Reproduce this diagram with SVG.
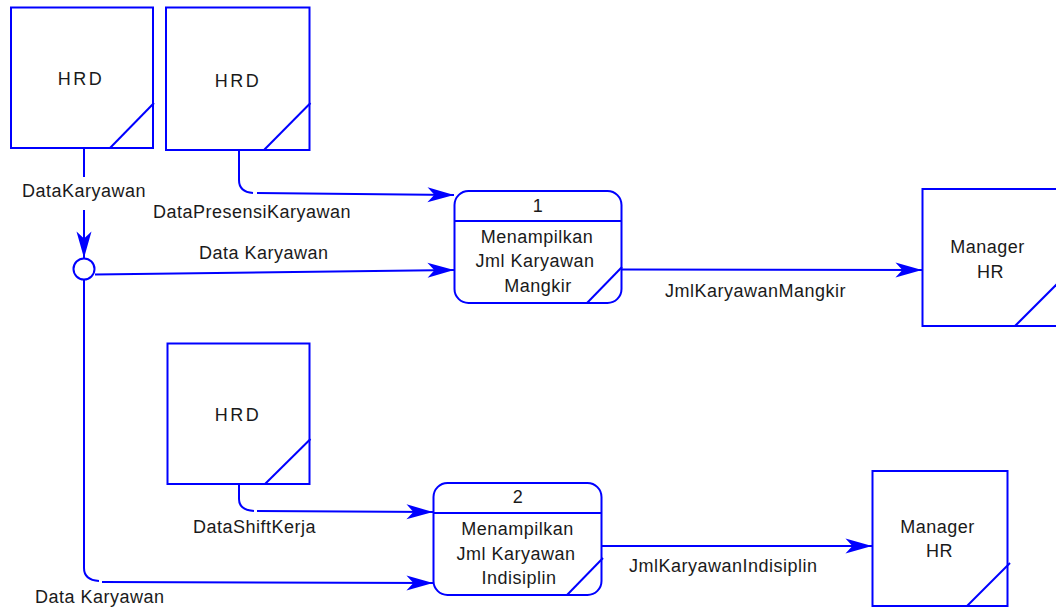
<svg xmlns="http://www.w3.org/2000/svg" width="1056" height="609" viewBox="0 0 1056 609">
<style>
.box{fill:#fff;stroke:#0000ff;stroke-width:2}
.ln{fill:none;stroke:#0000ff;stroke-width:2}
.t{font-family:"Liberation Sans",Arial,sans-serif;font-size:18px;fill:#1a1a1a;letter-spacing:0.5px}
.c{text-anchor:middle}
.h{letter-spacing:2.5px}
</style>
<defs>
<marker id="arr" markerUnits="userSpaceOnUse" markerWidth="30" markerHeight="20" viewBox="-24 -8 26 16" refX="0" refY="0" orient="auto">
<path d="M0,0 L-23,-6.5 L-17,0 L-23,6.5 Z" fill="#0000ff"/>
</marker>
</defs>
<rect width="1056" height="609" fill="#fff"/>
<g id="connectors">
<line class="ln" x1="84" y1="148" x2="84" y2="177"/>
<line class="ln" x1="84" y1="210" x2="84" y2="258" marker-end="url(#arr)"/>
<path class="ln" d="M239,150 V180 Q239,192 253,193"/>
<line class="ln" x1="257" y1="193" x2="454" y2="195" marker-end="url(#arr)"/>
<line class="ln" x1="95" y1="274.5" x2="454" y2="270" marker-end="url(#arr)"/>
<path class="ln" d="M84,280 V568 Q84,580 99,581"/>
<line class="ln" x1="102" y1="582" x2="433" y2="583" marker-end="url(#arr)"/>
<path class="ln" d="M239,484 V499 Q239,510 254,511"/>
<line class="ln" x1="257" y1="511" x2="433" y2="512" marker-end="url(#arr)"/>
<line class="ln" x1="622" y1="269.5" x2="922" y2="270" marker-end="url(#arr)"/>
<line class="ln" x1="602" y1="546" x2="872" y2="546" marker-end="url(#arr)"/>
<circle id="junction" class="box" cx="84" cy="269" r="10.5"/>
<text class="t" x="22" y="197">DataKaryawan</text>
<text class="t" x="153" y="218">DataPresensiKaryawan</text>
<text class="t" x="199" y="259">Data Karyawan</text>
<text class="t" x="665" y="297">JmlKaryawanMangkir</text>
<text class="t" x="193" y="533">DataShiftKerja</text>
<text class="t" x="629" y="572">JmlKaryawanIndisiplin</text>
<text class="t" x="35" y="603">Data Karyawan</text>
</g>
<g id="hrd1">
<rect class="box" x="11" y="7.5" width="142" height="140.5"/>
<line class="ln" x1="110" y1="148" x2="154" y2="103"/>
<text class="t c h" x="81" y="85">HRD</text>
</g>
<g id="hrd2">
<rect class="box" x="166" y="7.5" width="143.5" height="142.5"/>
<line class="ln" x1="264" y1="150" x2="310.5" y2="103"/>
<text class="t c h" x="238" y="87">HRD</text>
</g>
<g id="hrd3">
<rect class="box" x="167.5" y="343.5" width="142" height="140.5"/>
<line class="ln" x1="265" y1="484" x2="310.5" y2="439"/>
<text class="t c h" x="238" y="421">HRD</text>
</g>
<g id="process1">
<rect class="box" x="454.5" y="191" width="167" height="112" rx="14"/>
<line class="ln" x1="454.5" y1="221" x2="621.5" y2="221"/>
<line class="ln" x1="587" y1="303" x2="622" y2="267"/>
<text class="t c" x="538" y="212">1</text>
<text class="t c" x="537" y="243">Menampilkan</text>
<text class="t c" x="535" y="267">Jml Karyawan</text>
<text class="t c" x="538" y="292">Mangkir</text>
</g>
<g id="process2">
<rect class="box" x="433.5" y="483" width="168" height="112" rx="14"/>
<line class="ln" x1="433.5" y1="513" x2="601.5" y2="513"/>
<line class="ln" x1="567" y1="595" x2="603" y2="558"/>
<text class="t c" x="518" y="503">2</text>
<text class="t c" x="517.5" y="535">Menampilkan</text>
<text class="t c" x="516" y="560">Jml Karyawan</text>
<text class="t c" x="519" y="584">Indisiplin</text>
</g>
<g id="manager1">
<rect class="box" x="922.5" y="189" width="144" height="137"/>
<line class="ln" x1="1015" y1="326" x2="1067" y2="274"/>
<text class="t c" x="987.5" y="253">Manager</text>
<text class="t c" x="990.5" y="278">HR</text>
</g>
<g id="manager2">
<rect class="box" x="872.5" y="471" width="135" height="135"/>
<line class="ln" x1="967" y1="606" x2="1010" y2="563"/>
<text class="t c" x="937.5" y="533">Manager</text>
<text class="t c" x="939.5" y="557">HR</text>
</g>
</svg>
